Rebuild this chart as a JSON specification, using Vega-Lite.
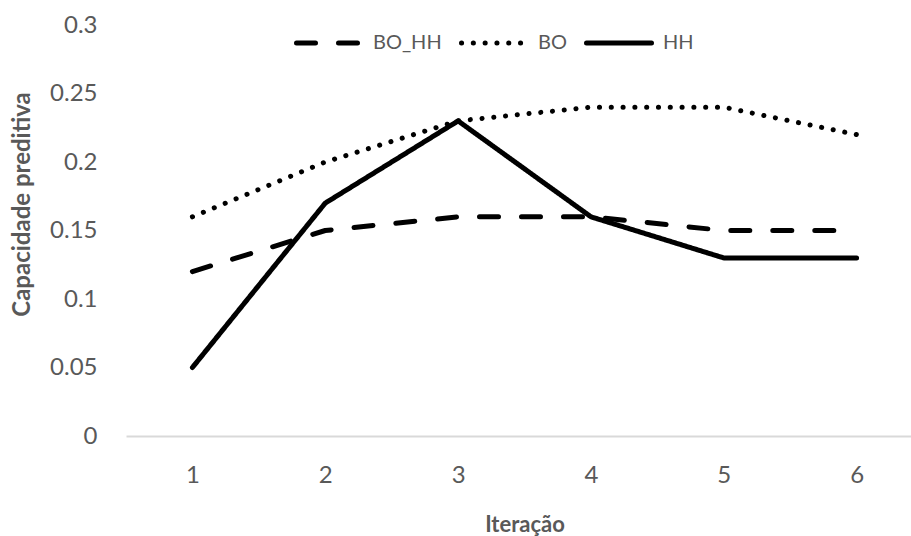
{
  "$schema": "https://vega.github.io/schema/vega-lite/v6.json",
  "autosize": "none",
  "padding": {"left": 126, "top": 25, "right": 0, "bottom": 100},
  "width": 797,
  "height": 411,
  "background": "white",
  "config": {
    "font": "Lato",
    "view": {"stroke": null}
  },
  "data": {
    "values": [
      {"iter": "1", "serie": "BO_HH", "valor": 0.12},
      {"iter": "2", "serie": "BO_HH", "valor": 0.15},
      {"iter": "3", "serie": "BO_HH", "valor": 0.16},
      {"iter": "4", "serie": "BO_HH", "valor": 0.16},
      {"iter": "5", "serie": "BO_HH", "valor": 0.15},
      {"iter": "6", "serie": "BO_HH", "valor": 0.15},
      {"iter": "1", "serie": "BO", "valor": 0.16},
      {"iter": "2", "serie": "BO", "valor": 0.20},
      {"iter": "3", "serie": "BO", "valor": 0.23},
      {"iter": "4", "serie": "BO", "valor": 0.24},
      {"iter": "5", "serie": "BO", "valor": 0.24},
      {"iter": "6", "serie": "BO", "valor": 0.22},
      {"iter": "1", "serie": "HH", "valor": 0.05},
      {"iter": "2", "serie": "HH", "valor": 0.17},
      {"iter": "3", "serie": "HH", "valor": 0.23},
      {"iter": "4", "serie": "HH", "valor": 0.16},
      {"iter": "5", "serie": "HH", "valor": 0.13},
      {"iter": "6", "serie": "HH", "valor": 0.13}
    ]
  },
  "mark": {"type": "line", "strokeWidth": 5, "strokeCap": "round", "strokeJoin": "round", "color": "black"},
  "encoding": {
    "x": {
      "field": "iter",
      "type": "ordinal",
      "sort": null,
      "scale": {"type": "point", "padding": 0.5},
      "axis": {
        "title": "Iteração",
        "labelAngle": 0,
        "labelFont": "Lato",
        "labelFontSize": 24,
        "labelColor": "#595959",
        "labelPadding": 27,
        "ticks": false,
        "domainColor": "#d9d9d9",
        "domainWidth": 2,
        "grid": false,
        "titleFont": "Lato",
        "titleFontSize": 22,
        "titleFontWeight": "bold",
        "titleColor": "#595959",
        "titleBaseline": "alphabetic",
        "titleY": 95
      }
    },
    "y": {
      "field": "valor",
      "type": "quantitative",
      "scale": {"domain": [0, 0.3], "nice": false, "zero": true},
      "axis": {
        "title": "Capacidade preditiva",
        "values": [0, 0.05, 0.1, 0.15, 0.2, 0.25, 0.3],
        "format": "~g",
        "labelFont": "Lato",
        "labelFontSize": 24,
        "labelColor": "#595959",
        "labelPadding": 29,
        "ticks": false,
        "domain": false,
        "grid": false,
        "titleFont": "Lato",
        "titleFontSize": 24,
        "titleFontWeight": "bold",
        "titleColor": "#595959",
        "titleAngle": -90,
        "titleX": -104,
        "titleY": 179,
        "titleAlign": "center",
        "titleBaseline": "middle"
      }
    },
    "strokeDash": {
      "field": "serie",
      "type": "nominal",
      "scale": {
        "domain": ["BO_HH", "BO", "HH"],
        "range": [[19, 23], [0.1, 11.7], [1, 0]]
      },
      "legend": {
        "title": null,
        "orient": "none",
        "direction": "horizontal",
        "legendX": 168,
        "legendY": -17,
        "symbolType": "stroke",
        "symbolSize": 4225,
        "symbolStrokeWidth": 5,
        "symbolStrokeColor": "black",
        "labelFont": "Lato",
        "labelFontSize": 20,
        "labelColor": "#595959",
        "labelOffset": 9,
        "columnPadding": 9,
        "encode": {
          "symbols": {"update": {"strokeCap": {"value": "round"}}}
        }
      }
    }
  }
}
